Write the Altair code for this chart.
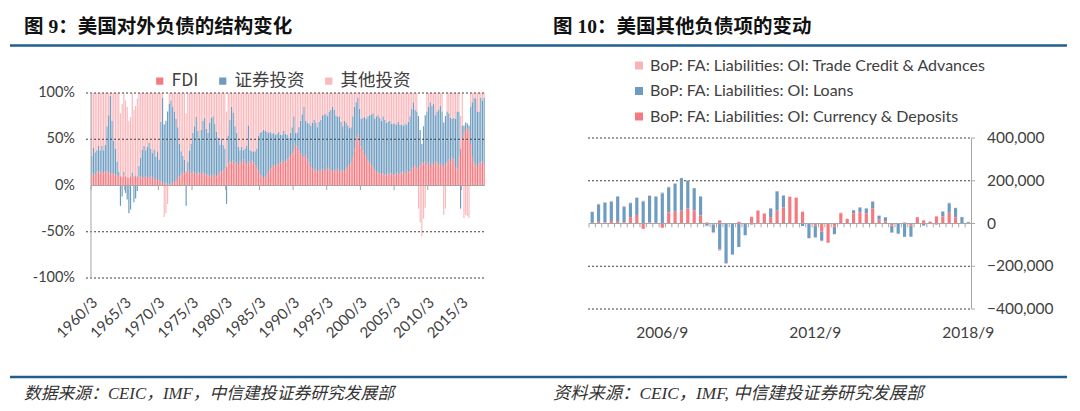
import altair as alt
import pandas as pd

# ---------------- 图 9: 美国对外负债的结构变化 (quarterly shares, %, 1960/3 - 2018/6)
fig9_series = ["FDI", "证券投资", "其他投资"]
fig9_colors = ["#F47A80", "#6E9CC0", "#FAB9BD"]
fig9_ticks = ["1960/3", "1965/3", "1970/3", "1975/3", "1980/3", "1985/3",
              "1990/3", "1995/3", "2000/3", "2005/3", "2010/3", "2015/3"]
fig9_yticks = [100, 50, 0, -50, -100]

fig9_fdi = [
    12, 13, 11, 14, 15, 14, 16, 13, 14, 16, 14, 13, 12, 13, 12, 11,
    10, 10, 9, 11, 10, 9, 8, 10, 9, 10, 11, 10, 9, 10, 9, 8,
    10, 9, 8, 10, 9, 7, 6, 7, 6, 4, 3, 2, 3, 2, 1, 2,
    3, 5, 4, 8, 10, 12, 14, 13, 15, 14, 16, 13, 15, 14, 12, 14,
    13, 12, 15, 13, 11, 12, 10, 11, 9, 12, 10, 12, 14, 15, 16, 18,
    20, 24, 26, 25, 27, 24, 25, 22, 26, 24, 28, 25, 23, 26, 24, 27,
    25, 22, 20, 16, 12, 10, 8, 9, 12, 15, 18, 20, 22, 21, 24, 22,
    25, 27, 24, 26, 28, 30, 32, 35, 38, 45, 42, 38, 35, 32, 30, 34,
    28, 25, 20, 18, 16, 18, 15, 17, 16, 18, 15, 17, 20, 18, 16, 15,
    17, 16, 18, 15, 17, 16, 15, 18, 20, 22, 25, 30, 40, 52, 55, 48,
    42, 38, 34, 30, 27, 24, 22, 20, 17, 15, 14, 13, 12, 13, 11, 12,
    14, 12, 13, 11, 12, 14, 13, 12, 14, 15, 13, 16, 14, 15, 18, 20,
    22, 18, 20, 22, 25, 24, 26, 22, 25, 20, 24, 22, 26, 25, 22, 24,
    22, 20, 23, 25, 28, 25, 30, 28, 20, 18, 30, 40, 50, 55, 60, 62,
    60, 45, 30, 25, 22, 20, 24, 25, 26, 22,
]
fig9_portfolio = [
    20, 28, 25, 24, 28, 24, 27, 25, 30, 48, 62, 84, 58, 35, 28, 15,
    5, -22, -12, 4, -8, -15, -30, -26, 5, -18, -14, -6, 12, 20, 30, 35,
    28, 33, 38, 30, 26, 32, 25, 30, 22, 65, 92, 64, 67, 78, 87, 90,
    82, 75, 68, 55, 35, 25, 18, 15, -22, 12, 22, 32, 42, 50, 62, 45,
    38, 48, 55, 60, 50, 45, 58, 62, 66, 55, 48, 40, 30, 36, 28, 22,
    -20, 30, 45, 60, 52, 40, 32, 20, 12, 18, 10, 15, 20, 39, 14, 10,
    12, 15, 20, 38, 45, 48, 52, 50, 46, 42, 40, 36, 35, 34, 32, 36,
    30, 28, 35, 30, 27, 22, 25, 28, 37, 12, 15, 25, 35, 45, 55, 36,
    40, 42, 45, 50, 55, 50, 48, 52, 55, 58, 62, 60, 55, 62, 66, 70,
    65, 60, 56, 60, 52, 48, 55, 50, 45, 40, 38, 45, 45, 38, 40, 35,
    30, 35, 40, 42, 48, 52, 55, 58, 55, 60, 62, 60, 58, 62, 60, 56,
    55, 58, 54, 56, 55, 52, 56, 54, 52, 50, 54, 50, 55, 60, 65, 70,
    60, 62, 55, 38, 20, 40, 50, 58, 60, 70, 62, 66, 50, 55, 60, 62,
    58, 48, 52, 55, 50, 48, 42, 45, 52, 62, 50, -25, 15, 10, 8, 5,
    5, 40, 60, 70, 72, 60, 56, 70, 66, 73,
]
fig9_other = [
    68, 59, 64, 62, 57, 62, 57, 62, 56, 36, 24, 3, 30, 52, 60, 74,
    85, 68, 79, 85, 82, 76, 62, 64, 86, 72, 75, 84, 79, 70, 61, 57,
    62, 58, 54, 60, 65, 61, 69, 63, 72, 31, 5, -34, -30, -20, 12, 8,
    15, 20, 28, 37, 55, 63, 68, 72, 63, 74, 62, 55, 43, 36, 26, 41,
    49, 40, 30, 27, 39, 43, 32, 27, 25, 33, 42, 48, 56, 49, 56, 60,
    60, 46, 29, 15, 21, 36, 43, 58, 62, 58, 62, 60, 57, 35, 62, 63,
    63, 63, 60, 46, 43, 42, 40, 41, 42, 43, 42, 44, 43, 45, 44, 42,
    45, 45, 41, 44, 45, 48, 43, 37, 25, 43, 43, 37, 30, 23, 15, 30,
    32, 33, 35, 32, 29, 32, 37, 31, 29, 24, 23, 23, 25, 20, 18, 15,
    18, 24, 26, 25, 31, 36, 30, 32, 35, 38, 37, 25, 15, 10, 5, 17,
    28, 27, 26, 28, 25, 24, 23, 22, 28, 25, 24, 27, 30, 25, 29, 32,
    31, 30, 33, 33, 33, 34, 31, 34, 34, 35, 33, 34, 31, 25, 17, 10,
    18, 20, -25, -40, -55, -36, -24, 20, 15, 10, 14, 12, 24, 20, 18, 14,
    20, -32, -25, 20, 22, 27, 28, 27, 28, 20, 20, 35, 35, -35, -32, -33,
    -35, 15, 10, 5, 6, 20, 20, 5, 8, 5,
]

# ---------------- 图 10: 美国其他负债项的变动 (USD mn, 2003/12 - 2018/9)
fig10_series = ["BoP: FA: Liabilities: OI: Trade Credit & Advances",
                "BoP: FA: Liabilities: OI: Loans",
                "BoP: FA: Liabilities: OI: Currency & Deposits"]
fig10_colors = ["#F9B3B7", "#6E9CC0", "#F47A80"]
fig10_stack_order = [2, 1, 0]
fig10_ticks = ["2006/9", "2012/9", "2018/9"]
fig10_yticks = [-400000, -200000, 0, 200000, 400000]

fig10_trade = [
    2000, 3000, 1000, 4000, 2000, 5000, 3000, 2000, 4000, 3000,
    2000, 5000, 3000, 4000, 2000, 3000, 1000, 2000, -3000, -5000,
    -8000, -4000, -2000, 1000, 2000, 3000, 2000, 4000, 3000, 2000,
    3000, 1000, 2000, 1000, -2000, -1000, -3000, 1000, 2000, 3000,
    2000, 1000, 3000, 2000, 4000, 2000, 1000, -2000, -3000, -1000,
    1000, 2000, 3000, 2000, 1000, 3000, 4000, 2000, 1000, 2000,
]
fig10_loans = [
    51000, 81000, 93000, 90000, 118000, 72000, 65000, 80000, 103000, 124000,
    123000, 141000, 117000, 130000, 152000, 130000, 103000, 88000, -10000, -35000,
    -120000, -185000, -145000, -110000, -55000, -5000, 0, 0, 40000, 90000,
    55000, 0, 0, -12000, -68000, -55000, -42000, 0, -35000, 0,
    0, 14000, 21000, 22000, 30000, 18000, 19000, -32000, -47000, -62000,
    -52000, 0, -10000, 0, -5000, 22000, 44000, 44000, 30000, 6000,
]
fig10_deposits = [
    3000, 8000, 5000, 12000, 8000, 5000, 30000, 40000, -25000, 5000,
    3000, -20000, 52000, 55000, 60000, 70000, 62000, 38000, 5000, -5000,
    15000, 0, 0, 8000, 0, 30000, 60000, 45000, 30000, 60000,
    75000, 125000, 120000, 55000, 0, -10000, -38000, -90000, -15000, 48000,
    21000, 48000, 53000, 48000, 71000, 18000, 10000, -10000, 0, 5000,
    -10000, 29000, 14000, 8000, 33000, 33000, 50000, 28000, 0, 0,
]

# ---------------- tables
W, H = 1064, 395
NUM_FONT = "Lato"
CJK_FONT = "Noto Sans CJK SC"
TXT = "#404040"
AXIS_GRAY = "#A6A6A6"
GRID = "#404040"

p9 = [f"{y}/{m}" for y in range(1960, 2019) for m in (3, 6, 9, 12)][:len(fig9_fdi)]
rows9 = []
for i, per in enumerate(p9):
    vals = [fig9_fdi[i], fig9_portfolio[i], fig9_other[i]]
    tot = sum(abs(v) for v in vals)
    for k, (s, v) in enumerate(zip(fig9_series, vals)):
        rows9.append({"period": per, "series": s, "ord": k, "pct": v / tot * 100})
df9 = pd.DataFrame(rows9)

p10 = [f"{y}/{m}" for y in range(2003, 2019) for m in (3, 6, 9, 12)][3:3 + len(fig10_loans)]
rows10 = []
for i, per in enumerate(p10):
    for s, o, v in zip(fig10_series, fig10_stack_order,
                       [fig10_trade[i], fig10_loans[i], fig10_deposits[i]]):
        rows10.append({"period": per, "series": s, "ord": o, "value": v})
df10 = pd.DataFrame(rows10)

# ---------------- left panel
x9 = alt.Scale(domain=p9, range=[83, 477], paddingInner=0.3, paddingOuter=0.15)
y9 = alt.Scale(domain=[-100, 100], range=[270, 85], nice=False, zero=False)

bars9 = alt.Chart(df9).mark_bar().encode(
    x=alt.X("period:O", scale=x9, axis=None),
    y=alt.Y("pct:Q", stack="zero", scale=y9, axis=None),
    color=alt.Color("series:N", scale=alt.Scale(domain=fig9_series, range=fig9_colors),
                    legend=alt.Legend(orient="none", legendX=143, legendY=64,
                                      direction="horizontal", title=None,
                                      symbolType="square", symbolSize=52,
                                      symbolStrokeWidth=0, labelFont=CJK_FONT,
                                      labelFontSize=17.5, labelColor=TXT,
                                      labelOffset=3, columnPadding=15,
                                      labelLimit=300)),
    order=alt.Order("ord:Q"),
)
grid9 = alt.Chart(pd.DataFrame({"v": [100, 50, -50, -100]})).mark_rule(
    color=GRID, strokeDash=[2, 2], strokeWidth=1).encode(
    y=alt.Y("v:Q", scale=y9, axis=None), x=alt.value(78), x2=alt.value(477))
zero9 = alt.Chart(pd.DataFrame({"v": [0]})).mark_rule(color=AXIS_GRAY, strokeWidth=1).encode(
    y=alt.Y("v:Q", scale=y9, axis=None), x=alt.value(83), x2=alt.value(477))
yaxis9 = alt.Chart(pd.DataFrame({"a": [100], "b": [-100]})).mark_rule(
    color=AXIS_GRAY, strokeWidth=1).encode(
    x=alt.value(83), y=alt.Y("a:Q", scale=y9, axis=None), y2="b:Q")
ticks9 = alt.Chart(pd.DataFrame({"period": fig9_ticks, "a": 0, "b": -5})).mark_rule(
    color=AXIS_GRAY, strokeWidth=1, xOffset=-0.25).encode(
    x=alt.X("period:O", scale=x9, axis=None, bandPosition=0),
    y=alt.Y("a:Q", scale=y9, axis=None), y2="b:Q")
ylab9 = alt.Chart(pd.DataFrame({"v": fig9_yticks})).transform_calculate(
    lab="datum.v + '%'").mark_text(align="right", baseline="middle", font=NUM_FONT,
                                   fontSize=14.5, color=TXT).encode(
    y=alt.Y("v:Q", scale=y9, axis=None), x=alt.value(67), text="lab:N")
xlab9 = alt.Chart(pd.DataFrame({"period": fig9_ticks})).mark_text(
    angle=315, align="right", baseline="middle", font=NUM_FONT, fontSize=15,
    color=TXT, xOffset=3).encode(
    x=alt.X("period:O", scale=x9, axis=None), y=alt.value(292), text="period:N")
left = alt.layer(bars9, grid9, zero9, yaxis9, ticks9, ylab9, xlab9)

# ---------------- right panel
x10 = alt.Scale(domain=p10, range=[581, 963.5], paddingInner=0.5, paddingOuter=0.25)
y10 = alt.Scale(domain=[-400000, 400000], range=[301, 130], nice=False, zero=False)

grid10 = alt.Chart(pd.DataFrame({"v": [400000, 200000, -200000, -400000]})).mark_rule(
    color=GRID, strokeDash=[2, 2], strokeWidth=1).encode(
    y=alt.Y("v:Q", scale=y10, axis=None), x=alt.value(580), x2=alt.value(963.5))
bars10 = alt.Chart(df10).mark_bar().encode(
    x=alt.X("period:O", scale=x10, axis=None),
    y=alt.Y("value:Q", stack="zero", scale=y10, axis=None),
    color=alt.Color("series:N", scale=alt.Scale(domain=fig10_series, range=fig10_colors),
                    legend=alt.Legend(orient="none", legendX=623, legendY=49.5,
                                      direction="vertical", title=None,
                                      symbolType="square", symbolSize=64,
                                      symbolStrokeWidth=0, labelFont=NUM_FONT,
                                      labelFontSize=16, labelColor=TXT,
                                      labelOffset=3, rowPadding=9.5,
                                      labelLimit=500)),
    order=alt.Order("ord:Q"),
)
zero10 = alt.Chart(pd.DataFrame({"v": [0]})).mark_rule(color=AXIS_GRAY, strokeWidth=1).encode(
    y=alt.Y("v:Q", scale=y10, axis=None), x=alt.value(581), x2=alt.value(963.5))
yaxis10 = alt.Chart(pd.DataFrame({"a": [400000], "b": [-400000]})).mark_rule(
    color=AXIS_GRAY, strokeWidth=1).encode(
    x=alt.value(963.5), y=alt.Y("a:Q", scale=y10, axis=None), y2="b:Q")
ytick10 = alt.Chart(pd.DataFrame({"v": fig10_yticks})).mark_rule(
    color=AXIS_GRAY, strokeWidth=1).encode(
    y=alt.Y("v:Q", scale=y10, axis=None), x=alt.value(963.5), x2=alt.value(967))
ticks10 = alt.Chart(pd.DataFrame({"period": p10, "a": 0, "b": -18000})).mark_rule(
    color=AXIS_GRAY, strokeWidth=1, xOffset=-1.6).encode(
    x=alt.X("period:O", scale=x10, axis=None, bandPosition=0),
    y=alt.Y("a:Q", scale=y10, axis=None), y2="b:Q")
ylab10 = alt.Chart(pd.DataFrame({"v": fig10_yticks})).mark_text(
    align="left", baseline="middle", font=NUM_FONT, fontSize=15.5, color=TXT).encode(
    y=alt.Y("v:Q", scale=y10, axis=None), x=alt.value(979),
    text=alt.Text("v:Q", format=","))
xlab10 = alt.Chart(pd.DataFrame({"period": fig10_ticks})).mark_text(
    align="center", baseline="middle", font=NUM_FONT, fontSize=15.5, color=TXT).encode(
    x=alt.X("period:O", scale=x10, axis=None), y=alt.value(324.5), text="period:N")
right = alt.layer(grid10, bars10, zero10, yaxis10, ytick10, ticks10, ylab10, xlab10)

# ---------------- page decorations
one = alt.Data(values=[{"k": 1}])
TITLE_FONT = "Liberation Serif, Noto Sans CJK SC"
title9 = alt.Chart(one).mark_text(text="图 9：美国对外负债的结构变化", align="left",
                                  baseline="middle", font=TITLE_FONT, fontSize=19.5,
                                  fontWeight="bold", color="#111111").encode(
    x=alt.value(16), y=alt.value(18.5))
title10 = alt.Chart(one).mark_text(text="图 10：美国其他负债项的变动", align="left",
                                   baseline="middle", font=TITLE_FONT, fontSize=19.5,
                                   fontWeight="bold", color="#111111").encode(
    x=alt.value(545), y=alt.value(18.5))
line_top = alt.Chart(one).mark_rule(color="#1F5E8F", strokeWidth=2.5).encode(
    x=alt.value(2), x2=alt.value(1059), y=alt.value(37.5))
line_bottom = alt.Chart(one).mark_rule(color="#1F5E8F", strokeWidth=2.5).encode(
    x=alt.value(2), x2=alt.value(1059), y=alt.value(369))
src9 = alt.Chart(one).mark_text(text="数据来源：CEIC，IMF，中信建投证券研究发展部", align="left",
                                baseline="middle", font=TITLE_FONT, fontSize=16.8,
                                fontStyle="italic", color="#333333").encode(
    x=alt.value(16), y=alt.value(385.5))
src10 = alt.Chart(one).mark_text(text="资料来源：CEIC，IMF, 中信建投证券研究发展部", align="left",
                                 baseline="middle", font=TITLE_FONT, fontSize=17.3,
                                 fontStyle="italic", color="#333333").encode(
    x=alt.value(545), y=alt.value(385.5))

chart = alt.layer(
    left, right, title9, title10, line_top, line_bottom, src9, src10
).resolve_scale(
    x="independent", y="independent", color="independent"
).properties(
    width=W, height=H, autosize=alt.AutoSizeParams(type="none"), padding=0
).configure_view(stroke=None)

chart.save("out.html", embed_options={"renderer": "svg", "actions": False})
